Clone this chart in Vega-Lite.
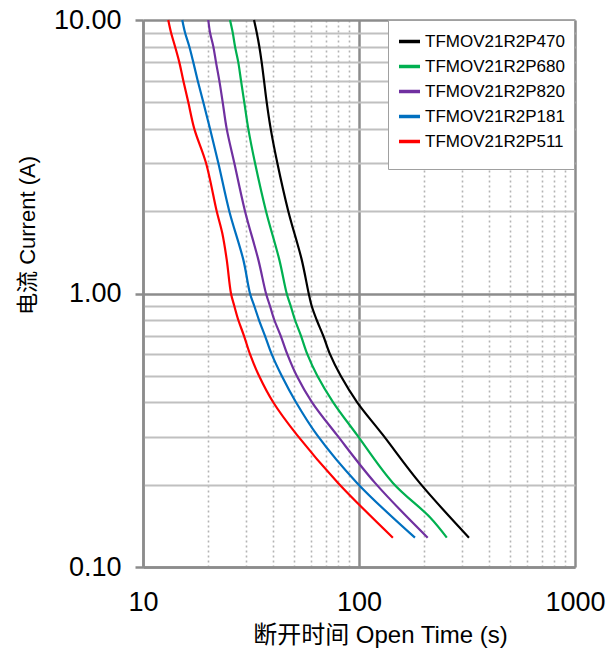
{
  "$schema": "https://vega.github.io/schema/vega-lite/v6.json",
  "width": 432,
  "height": 547,
  "autosize": "none",
  "padding": {"left": 143, "top": 20, "right": 32, "bottom": 85},
  "background": "white",
  "config": {"view": {"stroke": null}},
  "data": {"values": [
    {"s": "TFMOV21R2P470", "t": 32.66, "i": 10},
    {"s": "TFMOV21R2P470", "t": 33.61, "i": 9},
    {"s": "TFMOV21R2P470", "t": 34.55, "i": 8},
    {"s": "TFMOV21R2P470", "t": 35.44, "i": 7},
    {"s": "TFMOV21R2P470", "t": 36.33, "i": 6},
    {"s": "TFMOV21R2P470", "t": 37.39, "i": 5},
    {"s": "TFMOV21R2P470", "t": 39.02, "i": 4},
    {"s": "TFMOV21R2P470", "t": 41.87, "i": 3},
    {"s": "TFMOV21R2P470", "t": 47.06, "i": 2},
    {"s": "TFMOV21R2P470", "t": 54.29, "i": 1.33},
    {"s": "TFMOV21R2P470", "t": 58.5, "i": 1},
    {"s": "TFMOV21R2P470", "t": 60.39, "i": 0.9},
    {"s": "TFMOV21R2P470", "t": 63.71, "i": 0.8},
    {"s": "TFMOV21R2P470", "t": 68.35, "i": 0.7},
    {"s": "TFMOV21R2P470", "t": 73.39, "i": 0.6},
    {"s": "TFMOV21R2P470", "t": 82.27, "i": 0.5},
    {"s": "TFMOV21R2P470", "t": 97.9, "i": 0.401},
    {"s": "TFMOV21R2P470", "t": 129, "i": 0.304},
    {"s": "TFMOV21R2P470", "t": 191, "i": 0.203},
    {"s": "TFMOV21R2P470", "t": 323, "i": 0.128},
    {"s": "TFMOV21R2P680", "t": 25.28, "i": 10},
    {"s": "TFMOV21R2P680", "t": 26.02, "i": 9},
    {"s": "TFMOV21R2P680", "t": 26.67, "i": 8},
    {"s": "TFMOV21R2P680", "t": 27.62, "i": 7},
    {"s": "TFMOV21R2P680", "t": 28.43, "i": 6},
    {"s": "TFMOV21R2P680", "t": 29.44, "i": 5},
    {"s": "TFMOV21R2P680", "t": 30.73, "i": 4},
    {"s": "TFMOV21R2P680", "t": 33.01, "i": 3},
    {"s": "TFMOV21R2P680", "t": 37.11, "i": 2},
    {"s": "TFMOV21R2P680", "t": 42.76, "i": 1.33},
    {"s": "TFMOV21R2P680", "t": 46.27, "i": 1},
    {"s": "TFMOV21R2P680", "t": 48.29, "i": 0.9},
    {"s": "TFMOV21R2P680", "t": 50.55, "i": 0.8},
    {"s": "TFMOV21R2P680", "t": 53.89, "i": 0.7},
    {"s": "TFMOV21R2P680", "t": 57.64, "i": 0.6},
    {"s": "TFMOV21R2P680", "t": 64.11, "i": 0.5},
    {"s": "TFMOV21R2P680", "t": 75.8, "i": 0.401},
    {"s": "TFMOV21R2P680", "t": 97.9, "i": 0.304},
    {"s": "TFMOV21R2P680", "t": 143.5, "i": 0.203},
    {"s": "TFMOV21R2P680", "t": 213, "i": 0.152},
    {"s": "TFMOV21R2P680", "t": 255, "i": 0.128},
    {"s": "TFMOV21R2P820", "t": 20.06, "i": 10},
    {"s": "TFMOV21R2P820", "t": 20.43, "i": 9},
    {"s": "TFMOV21R2P820", "t": 21.16, "i": 8},
    {"s": "TFMOV21R2P820", "t": 21.78, "i": 7},
    {"s": "TFMOV21R2P820", "t": 22.56, "i": 6},
    {"s": "TFMOV21R2P820", "t": 23.39, "i": 5},
    {"s": "TFMOV21R2P820", "t": 24.41, "i": 4},
    {"s": "TFMOV21R2P820", "t": 26.47, "i": 3},
    {"s": "TFMOV21R2P820", "t": 29.67, "i": 2},
    {"s": "TFMOV21R2P820", "t": 34.19, "i": 1.33},
    {"s": "TFMOV21R2P820", "t": 37.11, "i": 1},
    {"s": "TFMOV21R2P820", "t": 38.72, "i": 0.9},
    {"s": "TFMOV21R2P820", "t": 40.55, "i": 0.8},
    {"s": "TFMOV21R2P820", "t": 43.41, "i": 0.7},
    {"s": "TFMOV21R2P820", "t": 46.56, "i": 0.6},
    {"s": "TFMOV21R2P820", "t": 51.48, "i": 0.5},
    {"s": "TFMOV21R2P820", "t": 60.5, "i": 0.401},
    {"s": "TFMOV21R2P820", "t": 79.0, "i": 0.304},
    {"s": "TFMOV21R2P820", "t": 118.6, "i": 0.203},
    {"s": "TFMOV21R2P820", "t": 208, "i": 0.128},
    {"s": "TFMOV21R2P181", "t": 15.2, "i": 10},
    {"s": "TFMOV21R2P181", "t": 15.65, "i": 9},
    {"s": "TFMOV21R2P181", "t": 16.38, "i": 8},
    {"s": "TFMOV21R2P181", "t": 17.1, "i": 7},
    {"s": "TFMOV21R2P181", "t": 17.92, "i": 6},
    {"s": "TFMOV21R2P181", "t": 19.02, "i": 5},
    {"s": "TFMOV21R2P181", "t": 20.43, "i": 4},
    {"s": "TFMOV21R2P181", "t": 22.32, "i": 3},
    {"s": "TFMOV21R2P181", "t": 25.09, "i": 2},
    {"s": "TFMOV21R2P181", "t": 29.13, "i": 1.33},
    {"s": "TFMOV21R2P181", "t": 31.29, "i": 1},
    {"s": "TFMOV21R2P181", "t": 32.75, "i": 0.9},
    {"s": "TFMOV21R2P181", "t": 34.44, "i": 0.8},
    {"s": "TFMOV21R2P181", "t": 36.71, "i": 0.7},
    {"s": "TFMOV21R2P181", "t": 39.42, "i": 0.6},
    {"s": "TFMOV21R2P181", "t": 43.86, "i": 0.5},
    {"s": "TFMOV21R2P181", "t": 51.0, "i": 0.401},
    {"s": "TFMOV21R2P181", "t": 63.9, "i": 0.304},
    {"s": "TFMOV21R2P181", "t": 97.9, "i": 0.203},
    {"s": "TFMOV21R2P181", "t": 181.6, "i": 0.128},
    {"s": "TFMOV21R2P511", "t": 13.09, "i": 10},
    {"s": "TFMOV21R2P511", "t": 13.48, "i": 9},
    {"s": "TFMOV21R2P511", "t": 14.07, "i": 8},
    {"s": "TFMOV21R2P511", "t": 14.73, "i": 7},
    {"s": "TFMOV21R2P511", "t": 15.37, "i": 6},
    {"s": "TFMOV21R2P511", "t": 16.21, "i": 5},
    {"s": "TFMOV21R2P511", "t": 17.28, "i": 4},
    {"s": "TFMOV21R2P511", "t": 19.58, "i": 3},
    {"s": "TFMOV21R2P511", "t": 21.94, "i": 2},
    {"s": "TFMOV21R2P511", "t": 23.29, "i": 1.66},
    {"s": "TFMOV21R2P511", "t": 24.41, "i": 1.33},
    {"s": "TFMOV21R2P511", "t": 25.55, "i": 1},
    {"s": "TFMOV21R2P511", "t": 26.47, "i": 0.9},
    {"s": "TFMOV21R2P511", "t": 27.62, "i": 0.8},
    {"s": "TFMOV21R2P511", "t": 29.35, "i": 0.7},
    {"s": "TFMOV21R2P511", "t": 31.29, "i": 0.6},
    {"s": "TFMOV21R2P511", "t": 34.44, "i": 0.5},
    {"s": "TFMOV21R2P511", "t": 40.0, "i": 0.401},
    {"s": "TFMOV21R2P511", "t": 51.6, "i": 0.304},
    {"s": "TFMOV21R2P511", "t": 80.0, "i": 0.203},
    {"s": "TFMOV21R2P511", "t": 143.5, "i": 0.128}
  ]},
  "mark": {"type": "line", "strokeWidth": 2.2, "interpolate": "catmull-rom"},
  "encoding": {
    "x": {
      "field": "t", "type": "quantitative",
      "scale": {"type": "log", "domain": [10, 1000], "nice": false},
      "axis": {
        "values": [10, 20, 30, 40, 50, 60, 70, 80, 90, 100, 200, 300, 400, 500, 600, 700, 800, 900, 1000],
        "format": "d",
        "labelExpr": "datum.value == 10 || datum.value == 100 || datum.value == 1000 ? datum.label : ''",
        "labelFont": "Liberation Sans Narrow, Liberation Sans, Arial",
        "labelFontSize": 27,
        "labelColor": "#000000",
        "labelPadding": 22,
        "labelOverlap": false,
        "labelFlush": false,
        "ticks": false,
        "domain": true,
        "domainColor": "#8c8c8c",
        "domainWidth": 2.5,
        "grid": true,
        "gridColor": {"condition": {"test": "datum.value == 10 || datum.value == 100 || datum.value == 1000", "value": "#8c8c8c"}, "value": "#b4b4b4"},
        "gridWidth": {"condition": {"test": "datum.value == 10 || datum.value == 100 || datum.value == 1000", "value": 2.5}, "value": 1.6},
        "gridDash": {"condition": {"test": "datum.value == 10 || datum.value == 100 || datum.value == 1000", "value": []}, "value": [2, 3]},
        "gridOpacity": 1,
        "title": "断开时间 Open Time (s)",
        "titleFont": "Liberation Sans Narrow, Liberation Sans, Noto Sans CJK SC",
        "titleFontSize": 24,
        "titleFontWeight": "normal",
        "titleColor": "#000000",
        "titlePadding": 8,
        "titleX": 237
      }
    },
    "y": {
      "field": "i", "type": "quantitative",
      "scale": {"type": "log", "domain": [0.1, 10], "nice": false},
      "axis": {
        "values": [0.1, 0.2, 0.3, 0.4, 0.5, 0.6, 0.7, 0.8, 0.9, 1, 2, 3, 4, 5, 6, 7, 8, 9, 10],
        "format": ".2f",
        "labelExpr": "datum.value == 0.1 || datum.value == 1 || datum.value == 10 ? datum.label : ''",
        "labelFont": "Liberation Sans Narrow, Liberation Sans, Arial",
        "labelFontSize": 27,
        "labelColor": "#000000",
        "labelPadding": 14,
        "labelOverlap": false,
        "labelFlush": false,
        "ticks": true,
        "tickSize": 8,
        "tickWidth": 2.5,
        "tickColor": {"condition": {"test": "datum.value == 0.1 || datum.value == 1 || datum.value == 10", "value": "#8c8c8c"}, "value": "transparent"},
        "domain": true,
        "domainColor": "#8c8c8c",
        "domainWidth": 2.5,
        "grid": true,
        "gridColor": {"condition": {"test": "datum.value == 0.1 || datum.value == 1 || datum.value == 10", "value": "#8c8c8c"}, "value": "#c0c0c0"},
        "gridWidth": {"condition": {"test": "datum.value == 0.1 || datum.value == 1 || datum.value == 10", "value": 2.5}, "value": 2},
        "gridOpacity": 1,
        "title": "电流 Current (A)",
        "titleFont": "Liberation Sans Narrow, Liberation Sans, Noto Sans CJK SC",
        "titleFontSize": 22,
        "titleFontWeight": "normal",
        "titleColor": "#000000",
        "titlePadding": 14,
        "titleY": 215
      }
    },
    "color": {
      "field": "s", "type": "nominal",
      "scale": {
        "domain": ["TFMOV21R2P470", "TFMOV21R2P680", "TFMOV21R2P820", "TFMOV21R2P181", "TFMOV21R2P511"],
        "range": ["#000000", "#00b050", "#7030a0", "#0070c0", "#ff0000"]
      },
      "legend": {
        "orient": "none",
        "legendX": 245,
        "legendY": 0,
        "title": " ",
        "titleOrient": "bottom",
        "titleFontSize": 8,
        "titlePadding": 2,
        "padding": 9,
        "fillColor": "white",
        "strokeColor": "#a0a0a0",
        "symbolType": "stroke",
        "symbolSize": 441,
        "symbolStrokeWidth": 3.5,
        "labelFont": "Liberation Sans, Arial",
        "labelFontSize": 17,
        "labelColor": "#000000",
        "labelOffset": 3,
        "rowPadding": 4,
        "labelLimit": 300
      }
    }
  }
}
